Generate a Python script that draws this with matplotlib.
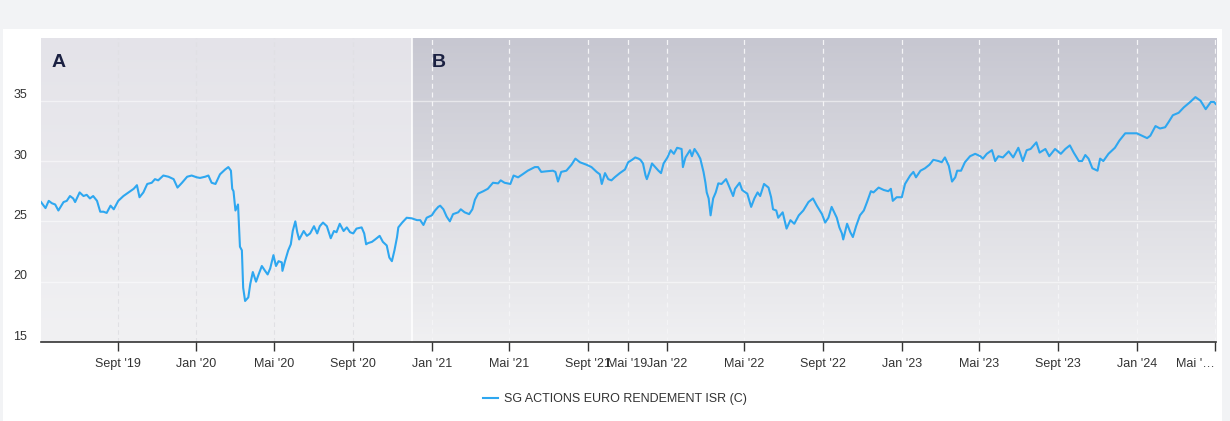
import matplotlib
matplotlib.use('Agg')
import matplotlib.pyplot as plt
import matplotlib.dates as mdates
import matplotlib.transforms as mtransforms
from matplotlib.patches import Rectangle
import numpy as np
import pandas as pd

plt.rcParams['font.family'] = ['Liberation Sans', 'DejaVu Sans']

# valeurs liquidatives (environ une par semaine)
dates = [
    '2019-05-05', '2019-05-12', '2019-05-17', '2019-05-22', '2019-05-27', '2019-06-01', '2019-06-09',
    '2019-06-14', '2019-06-19', '2019-06-24', '2019-06-27', '2019-07-04', '2019-07-10', '2019-07-15',
    '2019-07-20', '2019-07-25', '2019-07-31', '2019-08-05', '2019-08-10', '2019-08-15', '2019-08-21',
    '2019-08-26', '2019-09-02', '2019-09-10', '2019-09-18', '2019-09-26', '2019-10-01', '2019-10-05',
    '2019-10-11', '2019-10-17', '2019-10-24', '2019-10-29', '2019-11-03', '2019-11-11', '2019-11-19',
    '2019-11-27', '2019-12-03', '2019-12-10', '2019-12-18', '2019-12-25',
    '2020-01-02', '2020-01-07', '2020-01-15', '2020-01-20', '2020-01-25', '2020-01-31', '2020-02-07',
    '2020-02-15', '2020-02-20', '2020-02-24', '2020-02-26', '2020-02-28', '2020-03-02', '2020-03-06',
    '2020-03-09', '2020-03-12', '2020-03-14', '2020-03-17', '2020-03-22', '2020-03-25', '2020-03-29',
    '2020-04-03', '2020-04-07', '2020-04-12', '2020-04-17', '2020-04-21', '2020-04-25', '2020-04-30',
    '2020-05-04', '2020-05-08', '2020-05-13', '2020-05-14', '2020-05-18', '2020-05-23', '2020-05-27',
    '2020-05-30', '2020-06-03', '2020-06-06', '2020-06-09', '2020-06-16', '2020-06-21', '2020-06-26',
    '2020-07-02', '2020-07-07', '2020-07-11', '2020-07-16', '2020-07-22', '2020-07-28', '2020-08-02',
    '2020-08-06', '2020-08-11', '2020-08-17', '2020-08-22', '2020-08-27', '2020-09-01', '2020-09-06',
    '2020-09-14', '2020-09-18', '2020-09-21', '2020-09-24', '2020-09-30', '2020-10-05', '2020-10-12',
    '2020-10-17', '2020-10-23', '2020-10-27', '2020-10-31', '2020-11-04', '2020-11-08', '2020-11-10',
    '2020-11-16', '2020-11-23', '2020-12-01', '2020-12-09', '2020-12-14', '2020-12-19', '2020-12-24',
    '2021-01-01', '2021-01-06', '2021-01-11', '2021-01-14', '2021-01-19', '2021-01-24', '2021-01-29',
    '2021-02-03', '2021-02-11', '2021-02-15', '2021-02-21', '2021-02-28', '2021-03-05', '2021-03-09',
    '2021-03-14', '2021-03-22', '2021-03-29', '2021-04-06', '2021-04-14', '2021-04-18', '2021-04-24',
    '2021-05-03', '2021-05-08', '2021-05-15', '2021-05-22', '2021-05-30', '2021-06-10', '2021-06-15',
    '2021-06-20', '2021-06-28', '2021-07-08', '2021-07-12', '2021-07-16', '2021-07-21', '2021-07-29',
    '2021-08-06', '2021-08-12', '2021-08-19', '2021-08-29', '2021-09-06', '2021-09-14', '2021-09-19',
    '2021-09-22', '2021-09-27', '2021-10-02', '2021-10-07', '2021-10-12', '2021-10-20', '2021-10-28',
    '2021-11-02', '2021-11-08', '2021-11-13', '2021-11-18', '2021-11-21', '2021-11-25', '2021-11-29',
    '2021-12-01', '2021-12-05', '2021-12-09', '2021-12-14', '2021-12-19', '2021-12-23', '2021-12-27',
    '2022-01-02', '2022-01-07', '2022-01-12', '2022-01-17', '2022-01-24', '2022-01-26', '2022-01-30',
    '2022-02-06', '2022-02-09', '2022-02-13', '2022-02-18', '2022-02-22', '2022-02-27', '2022-03-02',
    '2022-03-04', '2022-03-07', '2022-03-10', '2022-03-14', '2022-03-18', '2022-03-22', '2022-03-27',
    '2022-04-03', '2022-04-07', '2022-04-14', '2022-04-17', '2022-04-24', '2022-04-28', '2022-05-03',
    '2022-05-06', '2022-05-12', '2022-05-17', '2022-05-22', '2022-05-26', '2022-06-01', '2022-06-08',
    '2022-06-12', '2022-06-15', '2022-06-20', '2022-06-23', '2022-06-30', '2022-07-06', '2022-07-12',
    '2022-07-18', '2022-07-25', '2022-08-01', '2022-08-09', '2022-08-16', '2022-08-22', '2022-08-30',
    '2022-09-04', '2022-09-09', '2022-09-14', '2022-09-22', '2022-09-26', '2022-09-30', '2022-10-02',
    '2022-10-08', '2022-10-13', '2022-10-17', '2022-10-22', '2022-10-28', '2022-11-03', '2022-11-08',
    '2022-11-14', '2022-11-18', '2022-11-26', '2022-12-04', '2022-12-11', '2022-12-15', '2022-12-18',
    '2022-12-24',
    '2023-01-01', '2023-01-06', '2023-01-14', '2023-01-19', '2023-01-23', '2023-01-30', '2023-02-06',
    '2023-02-13', '2023-02-19', '2023-02-27', '2023-03-04', '2023-03-09', '2023-03-15', '2023-03-20',
    '2023-03-25', '2023-03-28', '2023-04-03', '2023-04-09', '2023-04-17', '2023-04-25', '2023-05-03',
    '2023-05-07', '2023-05-13', '2023-05-21', '2023-05-26', '2023-05-31', '2023-06-07', '2023-06-16',
    '2023-06-23', '2023-07-01', '2023-07-08', '2023-07-14', '2023-07-20', '2023-07-29', '2023-08-03',
    '2023-08-12', '2023-08-18', '2023-08-27', '2023-09-05', '2023-09-12', '2023-09-19', '2023-09-25',
    '2023-10-03', '2023-10-08', '2023-10-13', '2023-10-18', '2023-10-24', '2023-11-01', '2023-11-05',
    '2023-11-10', '2023-11-18', '2023-11-28', '2023-12-05', '2023-12-14', '2023-12-22',
    '2024-01-01', '2024-01-09', '2024-01-17', '2024-01-22', '2024-01-30', '2024-02-06', '2024-02-14',
    '2024-02-19', '2024-02-26', '2024-03-06', '2024-03-14', '2024-03-24', '2024-04-01', '2024-04-09',
    '2024-04-17', '2024-04-25', '2024-04-30', '2024-05-03',
]
valeurs = [
    26.6, 26.1, 26.7, 26.5, 26.4, 25.9, 26.6,
    26.7, 27.1, 26.9, 26.6, 27.4, 27.1, 27.2,
    26.9, 27.1, 26.7, 25.8, 25.8, 25.7, 26.3,
    26.0, 26.7, 27.1, 27.4, 27.7, 28.0, 27.0,
    27.4, 28.1, 28.2, 28.5, 28.4, 28.8, 28.7,
    28.5, 27.8, 28.2, 28.7, 28.8,
    28.65, 28.6, 28.7, 28.8, 28.2, 28.1, 28.9,
    29.3, 29.5, 29.2, 27.7, 27.5, 25.9, 26.4,
    22.9, 22.6, 19.5, 18.4, 18.7, 19.8, 20.8,
    20.0, 20.6, 21.3, 20.9, 20.6, 21.1, 22.2,
    21.3, 21.7, 21.6, 20.9, 21.7, 22.6, 23.1,
    24.2, 25.0, 24.1, 23.5, 24.2, 23.8, 24.0,
    24.6, 24.0, 24.6, 24.9, 24.6, 23.6, 24.2,
    24.1, 24.8, 24.2, 24.5, 24.1, 24.0, 24.4,
    24.5, 24.0, 23.1, 23.2, 23.3, 23.5, 23.8,
    23.3, 23.0, 22.0, 21.7, 22.6, 23.7, 24.5,
    24.9, 25.3, 25.25, 25.1, 25.1, 24.7, 25.3,
    25.5, 25.9, 26.2, 26.3, 26.0, 25.4, 25.0,
    25.6, 25.75, 26.0, 25.75, 25.6, 26.0, 26.8,
    27.3, 27.5, 27.7, 28.2, 28.15, 28.4, 28.2,
    28.1, 28.8, 28.65, 28.9, 29.2, 29.5, 29.5,
    29.1, 29.15, 29.2, 29.1, 28.3, 29.1, 29.2,
    29.7, 30.2, 29.9, 29.7, 29.5, 29.1, 28.9,
    28.1, 29.0, 28.5, 28.4, 28.65, 29.0, 29.3,
    29.9, 30.1, 30.3, 30.2, 30.1, 29.8, 28.8,
    28.5, 29.1, 29.8, 29.5, 29.2, 29.0, 29.8,
    30.3, 30.9, 30.6, 31.1, 31.0, 29.5, 30.3,
    30.9, 30.4, 31.0, 30.6, 30.2, 29.1, 28.2,
    27.4, 26.9, 25.5, 26.9, 27.4, 28.15, 28.1,
    28.5, 28.0, 27.1, 27.7, 28.2, 27.6, 27.4,
    27.3, 26.2, 26.9, 27.4, 27.1, 28.1, 27.8,
    27.0, 26.0, 25.9, 25.3, 25.75, 24.4, 25.1,
    24.8, 25.5, 25.9, 26.6, 26.9, 26.3, 25.6,
    24.9, 25.3, 26.2, 25.3, 24.5, 24.0, 23.5,
    24.8, 24.1, 23.7, 24.6, 25.5, 25.9, 26.6,
    27.5, 27.4, 27.8, 27.6, 27.5, 27.7, 26.7,
    27.0,
    27.0, 28.1, 28.8, 29.1, 28.65, 29.2, 29.4,
    29.7, 30.1, 30.0, 29.9, 30.3, 29.6, 28.3,
    28.65, 29.2, 29.2, 29.9, 30.4, 30.6, 30.4,
    30.2, 30.6, 30.9, 30.0, 30.4, 30.3, 30.8,
    30.3, 31.1, 30.0, 30.9, 31.0, 31.55, 30.7,
    31.0, 30.4, 31.0, 30.6, 31.0, 31.3, 30.7,
    30.0, 30.0, 30.5, 30.2, 29.4, 29.2, 30.2,
    30.0, 30.6, 31.1, 31.7, 32.3, 32.3,
    32.3, 32.1, 31.9, 32.1, 32.9, 32.7, 32.8,
    33.2, 33.8, 34.0, 34.45, 34.9, 35.3, 35.0,
    34.3, 34.9, 34.9, 34.7,
]
nom_fonds = 'SG ACTIONS EURO RENDEMENT ISR (C)'

# graduations de l'axe X (le "Mai '19" est dans l'original)
ticks_dates = ['2019-09-01', '2020-01-01', '2020-05-01', '2020-09-01', '2021-01-01', '2021-05-01',
               '2021-09-01', '2021-11-01', '2022-01-01', '2022-05-01', '2022-09-01', '2023-01-01',
               '2023-05-01', '2023-09-01', '2024-01-01', '2024-05-01']
ticks_labels = ["Sept '19", "Jan '20", "Mai '20", "Sept '20", "Jan '21", "Mai '21",
                "Sept '21", "Mai '19", "Jan '22", "Mai '22", "Sept '22", "Jan '23",
                "Mai '23", "Sept '23", "Jan '24", "Mai '\u2026"]
y_ticks = [15, 20, 25, 30, 35]

debut, fin = '2019-05-05', '2024-05-03'
limite_ab = '2020-12-01'   # separation des zones A et B
y_min, y_max = 15, 40.2

def num(d):
    return mdates.date2num(pd.Timestamp(d))

fig = plt.figure(figsize=(12.3, 4.21), dpi=100, facecolor='#f2f3f5')
fig.patches.append(Rectangle((3 / 1230, 0), 1219 / 1230, 392 / 421, transform=fig.transFigure,
                             facecolor='white', edgecolor='none', zorder=-10))

ax = fig.add_axes([41 / 1230, 79 / 421, 1175 / 1230, 304 / 421])
ax.set_facecolor('none')

# fonds en degrade pour les deux zones
def degrade(haut, bas):
    g = np.linspace(0, 1, 256)[:, None, None]
    return np.array(haut)[None, None, :] * (1 - g) + np.array(bas)[None, None, :] * g

img_a = degrade([228, 227, 233], [241, 241, 243]) / 255
img_b = degrade([199, 199, 209], [240, 240, 242]) / 255
ax.imshow(img_a, extent=[num(debut), num(limite_ab), y_min, y_max], aspect='auto', origin='upper', zorder=0)
ax.imshow(img_b, extent=[num(limite_ab), num(fin), y_min, y_max], aspect='auto', origin='upper', zorder=0)
ax.axvline(num(limite_ab), color='white', lw=1.5, alpha=0.8, zorder=1)

# grilles
for v in y_ticks[1:]:
    ax.axhline(v, color='white', lw=1, alpha=0.5, zorder=1)
for d in ticks_dates:
    if num(d) < num(limite_ab):
        ax.axvline(num(d), color='#e0e0e4', lw=0.8, ls=(0, (4, 3)), zorder=1)
    else:
        ax.axvline(num(d), color='#f4f4f6', lw=0.9, ls=(0, (4, 3)), zorder=1)

x = [num(d) for d in dates]
ax.plot(x, valeurs, color='#2ea7f0', lw=1.5, zorder=3, label=nom_fonds)

ax.set_xlim(num(debut), num(fin))
ax.set_ylim(y_min, y_max)

ax.set_xticks([num(d) for d in ticks_dates])
ax.set_xticklabels(ticks_labels)
ax.get_xticklabels()[-1].set_ha('right')
ax.set_yticks(y_ticks)
ax.tick_params(axis='x', direction='out', length=6.5, width=1, color='#333333', pad=5,
               labelsize=9, labelcolor='#333333')
ax.tick_params(axis='y', length=0, pad=10, labelsize=9, labelcolor='#333333')
decal = mtransforms.ScaledTranslation(0, 5 / 72, fig.dpi_scale_trans)
for lab in ax.get_yticklabels():
    lab.set_transform(lab.get_transform() + decal)

for s in ['top', 'right', 'left']:
    ax.spines[s].set_visible(False)
ax.spines['bottom'].set_color('#333333')
ax.spines['bottom'].set_linewidth(1.2)
ax.spines['bottom'].set_zorder(4)

ax.text(11 / 1175, 0.921, 'A', transform=ax.transAxes, fontsize=14, fontweight='bold',
        color='#1b2142', va='center', ha='left', zorder=5)
ax.text(391 / 1175, 0.921, 'B', transform=ax.transAxes, fontsize=14, fontweight='bold',
        color='#1b2142', va='center', ha='left', zorder=5)

fig.legend(loc='center', bbox_to_anchor=(0.5, 0.052), frameon=False, handlelength=1.2,
           handletextpad=0.5, fontsize=9, labelcolor='#333333')

fig.savefig('out.png', dpi=100, facecolor=fig.get_facecolor())
